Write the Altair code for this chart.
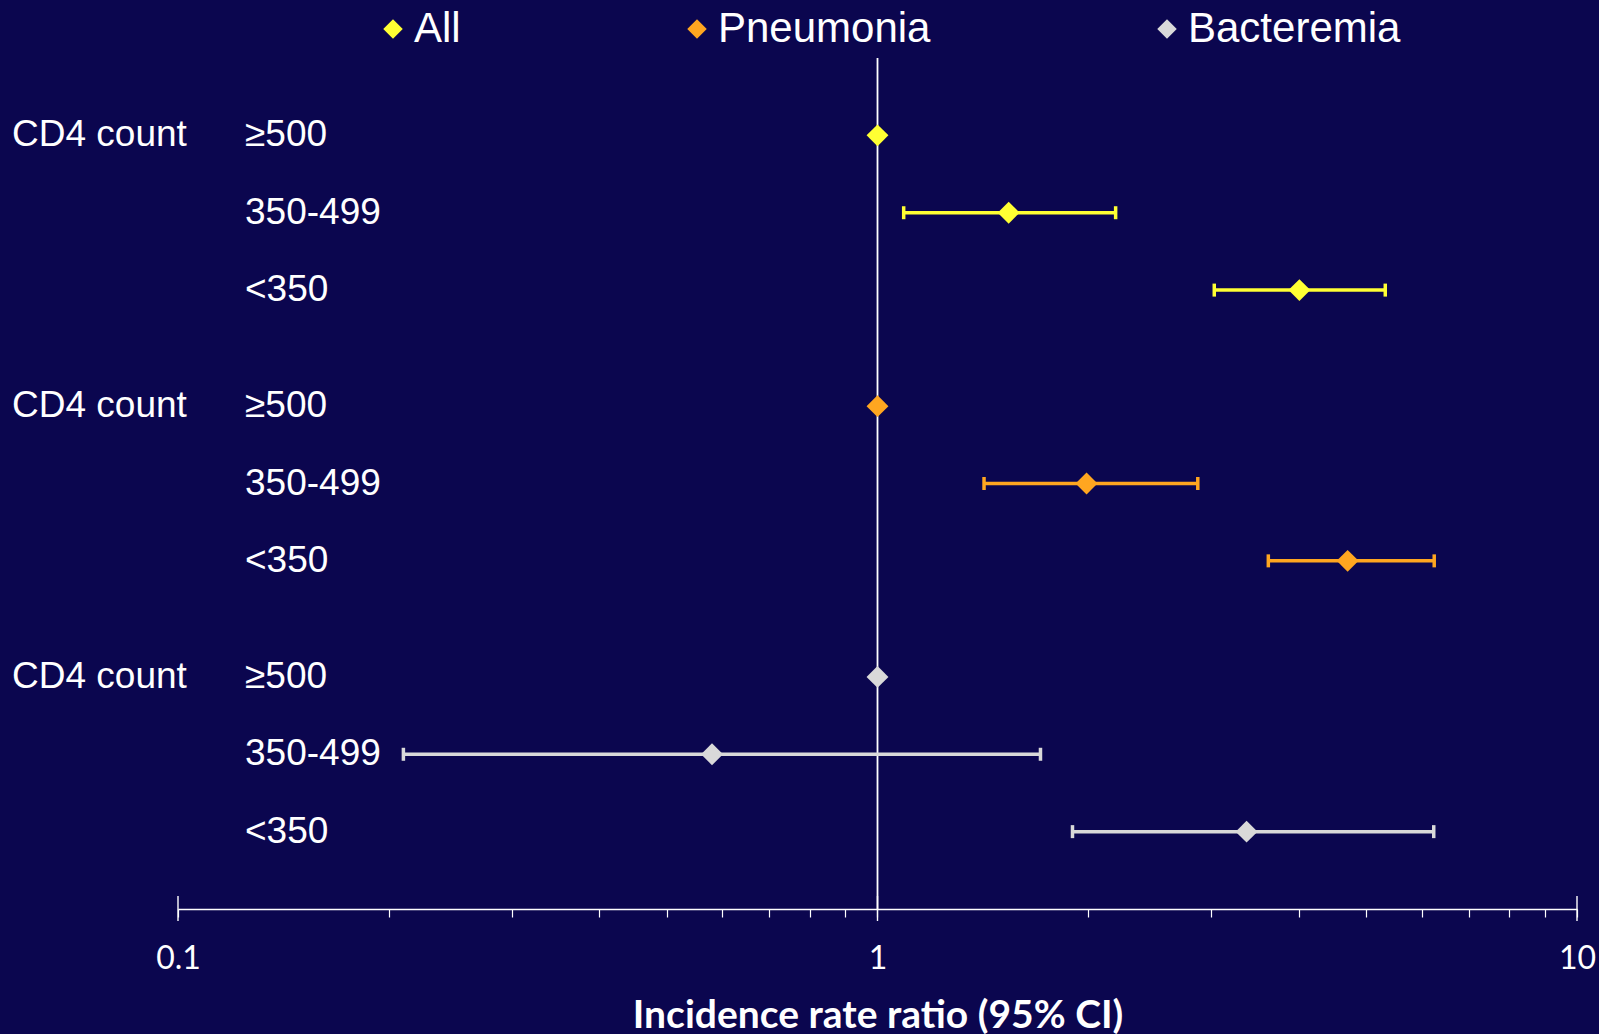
import altair as alt
import pandas as pd

# ---- data ----
groups = ["All", "Pneumonia", "Bacteremia"]
colors = ["#FFFF33", "#FFA620", "#D9D9D9"]
strata = ["≥500", "350-499", "<350"]
group_label = "CD4 count"

irr_all = [1.0, 1.54, 4.01]
lo_all = [None, 1.09, 3.03]
hi_all = [None, 2.19, 5.32]

irr_pneu = [1.0, 1.99, 4.70]
lo_pneu = [None, 1.42, 3.62]
hi_pneu = [None, 2.87, 6.25]

irr_bact = [1.0, 0.58, 3.37]
lo_bact = [None, 0.21, 1.90]
hi_bact = [None, 1.71, 6.24]

tick_values = [0.1, 0.2, 0.3, 0.4, 0.5, 0.6, 0.7, 0.8, 0.9,
               1, 2, 3, 4, 5, 6, 7, 8, 9, 10]
major_ticks = [0.1, 1, 10]
major_labels = ["0.1", "1", "10"]

# ---- build table ----
rows = []
series = [(irr_all, lo_all, hi_all), (irr_pneu, lo_pneu, hi_pneu), (irr_bact, lo_bact, hi_bact)]
for gi, (g, (irr, lo, hi)) in enumerate(zip(groups, series)):
    for si, s in enumerate(strata):
        rows.append({
            "group": g, "stratum": s, "row": gi * 3.5 + si,
            "irr": irr[si], "lo": lo[si], "hi": hi[si],
            "glabel": group_label if si == 0 else "",
        })
df = pd.DataFrame(rows)
ci = df.dropna(subset=["lo"])

W, H = 1399, 851
xscale = alt.Scale(type="log", domain=[0.1, 10], nice=False)
yscale = alt.Scale(domain=[-1, 10], reverse=True)
cscale = alt.Scale(domain=groups, range=colors)

legend = alt.Legend(orient="none", legendX=194, legendY=-50,
                    direction="horizontal", columns=3, title=None,
                    symbolType="diamond", symbolSize=380,
                    symbolStrokeWidth=0, symbolOpacity=1, labelFont="Liberation Sans",
                    labelFontSize=42, labelColor="white",
                    labelLimit=500, labelOffset=0,
                    columnPadding=215, padding=0)
color = alt.Color("group:N", scale=cscale, legend=legend)

label_expr = "indexof([" + ",".join(str(v) for v in major_ticks) + "], datum.value) >= 0 ? [" + \
    ",".join("'" + l + "'" for l in major_labels) + "][indexof([" + \
    ",".join(str(v) for v in major_ticks) + "], datum.value)] : ''"

base = alt.Chart(df)

ref = alt.Chart(pd.DataFrame({"v": [1.0]})).mark_rule(color="white", strokeWidth=1.8).encode(
    x=alt.X("v:Q", scale=xscale,
            axis=alt.Axis(values=tick_values, labelExpr=label_expr, tickSize=8,
                          tickColor="white", tickWidth=1.2, domainColor="white", domainWidth=1.6,
                          labelColor="white", labelFont="Lato", labelFontSize=32,
                          labelPadding=26, labelFlush=False, labelOverlap=False, labelBound=False,
                          grid=False, title="Incidence rate ratio (95% CI)",
                          titleFont="Lato", titleFontSize=39, titleFontWeight="bold",
                          titleColor="white", titlePadding=22)),
)

majors = alt.Chart(pd.DataFrame({"v": major_ticks})).mark_rule(color="white", strokeWidth=1.4).encode(
    x=alt.X("v:Q", scale=xscale),
    y=alt.value(H - 13), y2=alt.value(H + 12),
)

bars = alt.Chart(ci).mark_rule(strokeWidth=3.5).encode(
    x=alt.X("lo:Q", scale=xscale), x2="hi:Q",
    y=alt.Y("row:Q", scale=yscale, axis=None),
    color=color,
)
caps_lo = alt.Chart(ci).mark_tick(orient="vertical", size=13, thickness=3.5, opacity=1).encode(
    x=alt.X("lo:Q", scale=xscale),
    y=alt.Y("row:Q", scale=yscale, axis=None),
    color=color,
)
caps_hi = alt.Chart(ci).mark_tick(orient="vertical", size=13, thickness=3.5, opacity=1).encode(
    x=alt.X("hi:Q", scale=xscale),
    y=alt.Y("row:Q", scale=yscale, axis=None),
    color=color,
)
points = base.mark_point(shape="diamond", filled=True, size=480, opacity=1).encode(
    x=alt.X("irr:Q", scale=xscale),
    y=alt.Y("row:Q", scale=yscale, axis=None),
    color=color,
)

glabels = base.mark_text(align="left", baseline="middle", font="Liberation Sans",
                         fontSize=37, color="white").encode(
    x=alt.value(-166), y=alt.Y("row:Q", scale=yscale, axis=None), text="glabel:N")
slabels = base.mark_text(align="left", baseline="middle", font="Liberation Sans",
                         fontSize=37, color="white").encode(
    x=alt.value(67), y=alt.Y("row:Q", scale=yscale, axis=None), text="stratum:N")

chart = alt.layer(ref, majors, bars, caps_lo, caps_hi, points, glabels, slabels).properties(
    width=W, height=H,
    padding={"left": 178, "top": 58, "right": 22, "bottom": 125},
    autosize=alt.AutoSizeParams(type="none"),
    background="#0B064F",
).configure_view(stroke=None)

chart.save("out.html", embed_options={"renderer": "svg", "actions": False})
